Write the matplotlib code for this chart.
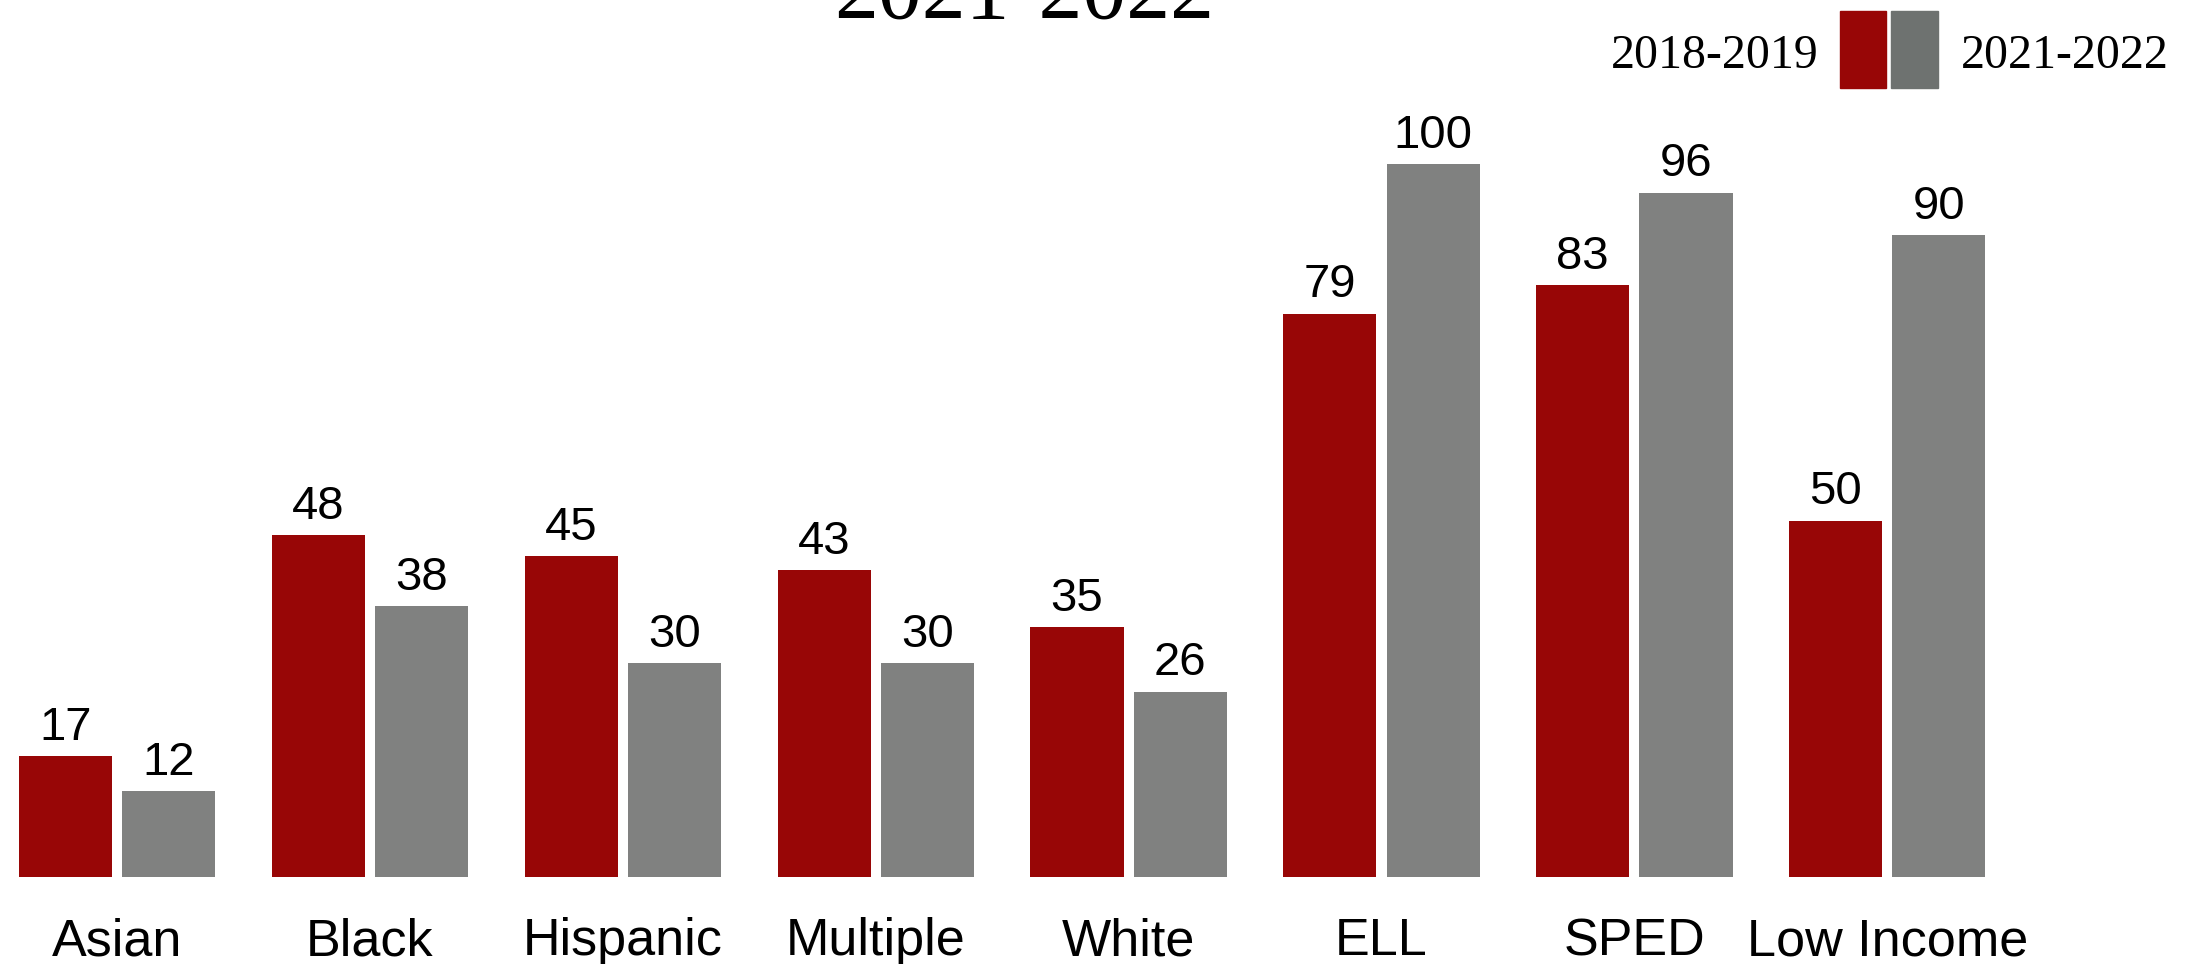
import matplotlib
matplotlib.use("Agg")
import matplotlib.pyplot as plt
from matplotlib.patches import Rectangle
import numpy as np

categories = ["Asian", "Black", "Hispanic", "Multiple", "White", "ELL", "SPED", "Low Income"]
vals_1819 = [17, 48, 45, 43, 35, 79, 83, 50]
vals_2122 = [12, 38, 30, 30, 26, 100, 96, 90]
series_labels = ["2018-2019", "2021-2022"]
title_text = "2021-2022"

RED = "#980606"
GRAY = "#808180"
LEG_GRAY = "#6e7270"

W, H = 2197, 964
fig = plt.figure(figsize=(W / 100, H / 100), dpi=100)
base_px = 877
ax = fig.add_axes([0, (H - base_px) / H, 1, base_px / H])

x = np.arange(len(categories))
bw = 0.368
off = 0.204
b1 = ax.bar(x - off, vals_1819, width=bw, color=RED)
b2 = ax.bar(x + off, vals_2122, width=bw, color=GRAY)

ppu = 252.9
xmin = -117 / ppu
ax.set_xlim(xmin, xmin + W / ppu)
ax.set_ylim(0, base_px / 7.13)

for bars in (b1, b2):
    ax.bar_label(bars, padding=4.5, fontsize=34, family="Liberation Sans", color="black")

ax.set_xticks(x)
ax.set_xticklabels(categories, fontsize=37.5, family="Liberation Sans")
ax.tick_params(axis="x", length=0, pad=29)
ax.set_yticks([])
for s in ax.spines.values():
    s.set_visible(False)

# title (cut off at top in reference)
fig.text(1024 / W, (H - 18) / H, title_text, ha="center", va="baseline",
         fontsize=63, family="Liberation Serif")

# legend
fig.patches.append(Rectangle((1840 / W, (H - 88) / H), 46 / W, 77 / H,
                             transform=fig.transFigure, color=RED))
fig.patches.append(Rectangle((1891 / W, (H - 88) / H), 47 / W, 77 / H,
                             transform=fig.transFigure, color=LEG_GRAY))
fig.text(1819 / W, (H - 68) / H, series_labels[0], ha="right", va="baseline",
         fontsize=34.5, family="Liberation Serif")
fig.text(1961 / W, (H - 68) / H, series_labels[1], ha="left", va="baseline",
         fontsize=34.5, family="Liberation Serif")

fig.savefig("out.png", dpi=100)
